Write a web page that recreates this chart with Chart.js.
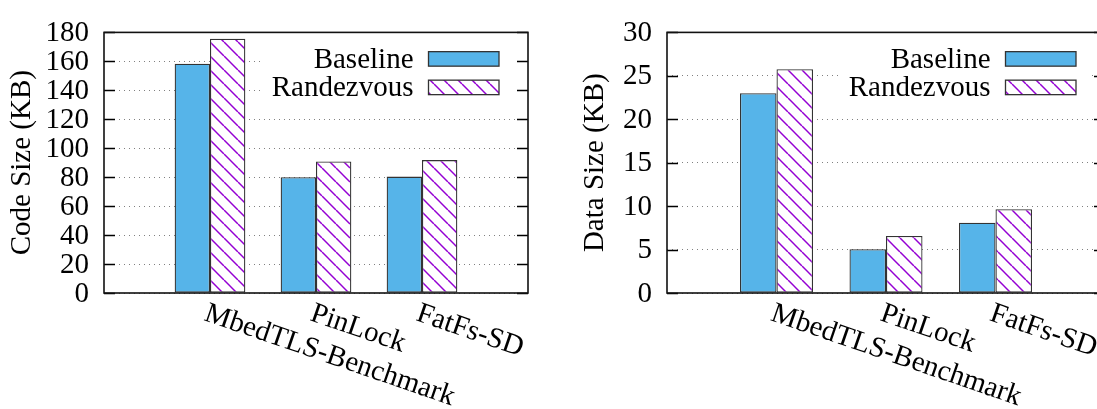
<!DOCTYPE html>
<html><head><meta charset="utf-8">
<script src="https://cdn.jsdelivr.net/npm/chart.js@4"></script>
<style>
html,body{margin:0;padding:0;background:#fff;overflow:hidden;width:1097px;height:409px;position:relative;}
#c1{position:absolute;left:0;top:0;}
#c2{position:absolute;left:550px;top:0;}
</style></head><body>
<canvas id="c1" width="550" height="409"></canvas>
<canvas id="c2" width="570" height="409"></canvas>
<script>
// ---- data ----
const categories = ['MbedTLS-Benchmark', 'PinLock', 'FatFs-SD'];
const seriesNames = ['Baseline', 'Randezvous'];
const codeBaseline = [158.4, 80.0, 80.4];
const codeRandezvous = [175.6, 90.8, 91.8];
const dataBaseline = [23.0, 5.05, 8.1];
const dataRandezvous = [25.75, 6.56, 9.64];
const codeTicks = [0, 20, 40, 60, 80, 100, 120, 140, 160, 180];
const dataTicks = [0, 5, 10, 15, 20, 25, 30];
const codeTitle = 'Code Size (KB)';
const dataTitle = 'Data Size (KB)';

const FONT = "'Liberation Serif', 'Times New Roman', 'DejaVu Serif', serif";
const FS = 29;
const BLUE = '#56B4E9';
const PURPLE = '#9400D3';

function makeHatch() {
  const s = 14, c = document.createElement('canvas');
  c.width = s; c.height = s;
  const g = c.getContext('2d');
  g.fillStyle = '#fff'; g.fillRect(0, 0, s, s);
  g.strokeStyle = PURPLE; g.lineWidth = 1.5;
  for (const k of [-s, 0, s]) { g.beginPath(); g.moveTo(k, 0); g.lineTo(k + s, s); g.stroke(); }
  return g.createPattern(c, 'repeat');
}

const decorPlugin = {
  id: 'decor',
  afterDatasetsDraw(chart) {
    const {ctx, chartArea: a, scales: {x, y}} = chart;
    const hatch = chart.config.data.datasets[1].backgroundColor;
    ctx.save();
    ctx.font = FS + 'px ' + FONT;
    // legend (key box)
    const swL = a.right - 99.5, swW = 70.5, swH = 14.5;
    const rows = [a.top + 26.5, a.top + 55];
    const txtR = swL - 15;
    const maxW = Math.max(...seriesNames.map(s => ctx.measureText(s).width));
    ctx.fillStyle = '#fff';
    ctx.fillRect(txtR - maxW - 9, a.top + 8, (a.right - 13) - (txtR - maxW - 9), 72);
    seriesNames.forEach((name, i) => {
      const cy = rows[i];
      ctx.fillStyle = '#000';
      ctx.textAlign = 'right'; ctx.textBaseline = 'middle';
      ctx.fillText(name, txtR, cy + 1);
      ctx.fillStyle = i === 0 ? BLUE : hatch;
      ctx.fillRect(swL, cy - swH / 2, swW, swH);
      ctx.strokeStyle = '#333'; ctx.lineWidth = 1.3;
      ctx.strokeRect(swL, cy - swH / 2, swW, swH);
    });
    // inner tick marks on both sides
    ctx.strokeStyle = '#000'; ctx.lineWidth = 1.3;
    y.ticks.forEach(t => {
      const py = Math.round(y.getPixelForValue(t.value)) + 0.5;
      ctx.beginPath();
      ctx.moveTo(a.left, py); ctx.lineTo(a.left + 11, py);
      ctx.moveTo(a.right - 11, py); ctx.lineTo(a.right, py);
      ctx.stroke();
    });
    // frame
    ctx.lineWidth = 1.6; ctx.strokeStyle = '#111';
    ctx.strokeRect(a.left, a.top, a.right - a.left, a.bottom - a.top);
    // rotated category labels
    ctx.fillStyle = '#000';
    ctx.textAlign = 'left'; ctx.textBaseline = 'alphabetic';
    categories.forEach((c, i) => {
      const px = x.getPixelForValue(i + 1);
      ctx.save();
      ctx.translate(px - 7, a.bottom + 27);
      ctx.rotate(19 * Math.PI / 180);
      ctx.fillText(c, 0, 0);
      ctx.restore();
    });
    ctx.restore();
  }
};

function build(canvasId, base, rand, ticks, title, yWidth, padRight, titlePad) {
  const hatch = makeHatch();
  return new Chart(document.getElementById(canvasId), {
    type: 'bar',
    data: {
      datasets: [
        {label: seriesNames[0], data: base.map((v, i) => ({x: i + 1, y: v})),
          backgroundColor: BLUE, borderColor: '#333', borderWidth: 1.3, borderSkipped: false,
          categoryPercentage: 0.667, barPercentage: 1},
        {label: seriesNames[1], data: rand.map((v, i) => ({x: i + 1, y: v})),
          backgroundColor: hatch, borderColor: '#333', borderWidth: 1.3, borderSkipped: false,
          categoryPercentage: 0.667, barPercentage: 1}
      ]
    },
    options: {
      responsive: false, animation: false, devicePixelRatio: 1,
      layout: {padding: {left: 0, top: 20, right: padRight, bottom: 0}},
      plugins: {legend: {display: false}, tooltip: {enabled: false}},
      scales: {
        x: {type: 'linear', min: 0, max: categories.length + 1, offset: false,
          ticks: {display: false, stepSize: 1}, grid: {display: false}, border: {display: false},
          afterFit(s) { s.height = 409 - 293; }},
        y: {type: 'linear', min: ticks[0], max: ticks[ticks.length - 1],
          afterBuildTicks(s) { s.ticks = ticks.map(v => ({value: v})); },
          ticks: {padding: 15, color: '#000', font: {family: FONT, size: FS}, labelOffset: 1, autoSkip: false},
          grid: {color: '#808080', lineWidth: 1, drawTicks: false},
          border: {display: false, dash: [1, 4]},
          title: {display: true, text: title, color: '#000',
            font: {family: FONT, size: FS, lineHeight: 1.2}, padding: {top: titlePad, bottom: 0}},
          afterFit(s) { s.width = yWidth; }}
      }
    },
    plugins: [decorPlugin]
  });
}

build('c1', codeBaseline, codeRandezvous, codeTicks, codeTitle, 104, 22, 5.4);
build('c2', dataBaseline, dataRandezvous, dataTicks, dataTitle, 117, 15, 28);
</script>
</body></html>
